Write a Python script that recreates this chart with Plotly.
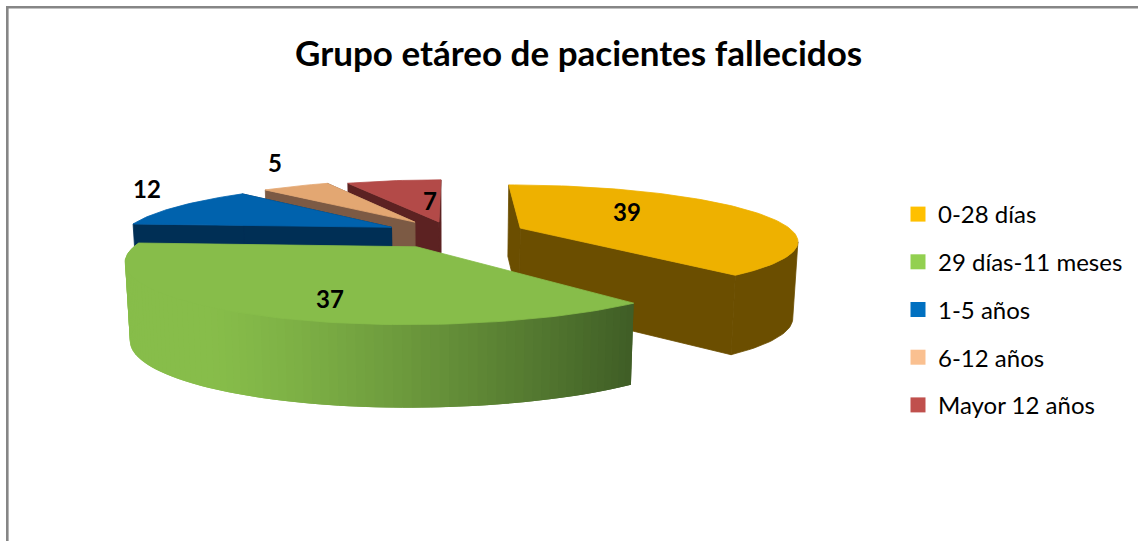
import math
import plotly.graph_objects as go

categories = ["0-28 días", "29 días-11 meses", "1-5 años", "6-12 años", "Mayor 12 años"]
values = [39, 37, 12, 5, 7]
title_text = "Grupo etáreo de pacientes fallecidos"

legend_colors = ["#FFC000", "#92D050", "#0070C0", "#FAC090", "#C0504D"]
top_colors = ["#EEB100", "#87BD4A", "#0062AD", "#E3A772", "#B34A48"]
wall_colors = ["#6B4E00", "#87BD4A", "#002F55", "#7C5A44", "#5C2222"]
explode = [75, 75, 70, 70, 60]
radii = [274, 280, 280, 280, 280]
label_pos = [(627, 211), (330, 298), (147, 188), (275, 162), (430, 200)]

W, H = 1138, 541
CX, HORIZON, BASE, DIST, DEPTH = 451, -32, 265, 1350, 76


def project(u, v, down):
    s = DIST / (DIST - v)
    left = 0.96 if u < 0 else 1.0
    x = CX + s * u * left * (1 - 0.015 * down)
    y = HORIZON + s * BASE + down * DEPTH * s ** 0.3
    return x, y


def ground(theta, radius, mid, ex):
    u = radius * math.sin(theta) + ex * math.sin(mid)
    v = -radius * math.cos(theta) - ex * math.cos(mid)
    return u, v


def poly(points, color, width=0.6):
    xs = [p[0] for p in points] + [points[0][0]]
    ys = [p[1] for p in points] + [points[0][1]]
    return go.Scatter(x=xs, y=ys, mode="lines", fill="toself", fillcolor=color,
                      line=dict(color=color, width=width), hoverinfo="skip", showlegend=False)


def mix(t):
    a, b = (0x87, 0xBD, 0x4A), (0x3E, 0x5C, 0x25)
    t = max(0.0, min(1.0, t)) ** 1.25
    return "rgb(%d,%d,%d)" % tuple(round(a[i] + (b[i] - a[i]) * t) for i in range(3))


def tucked(p, k):
    # lift the wall's upper edge under the top face, so no pale seam shows along it
    return (p[0], p[1] - 3) if k > 1 and p[0] > 140 else p


total = sum(values)
angles = [0.0]
for val in values:
    angles.append(angles[-1] + 2 * math.pi * val / total)

fig = go.Figure()
for i in [4, 3, 2, 0, 1]:
    a0, a1 = angles[i], angles[i + 1]
    mid = (a0 + a1) / 2
    ex, R = explode[i], radii[i]
    apex_top = project(*ground(0, 0, mid, ex), 0)
    apex_bot = project(*ground(0, 0, mid, ex), 1)
    n = max(4, round(math.degrees(a1 - a0) / 1.5))
    th = [a0 + (a1 - a0) * k / n for k in range(n + 1)]
    top = [project(*ground(t, R, mid, ex), 0) for t in th]
    bot = [project(*ground(t, R, mid, ex), 1) for t in th]
    if i == 1:
        for k in range(n):
            # each strip overlaps the previous one so no seams show
            j = max(k - 1, 0)
            quad = [tucked(top[j], j), tucked(top[k + 1], k + 1), bot[k + 1], bot[j]]
            xm = (top[k][0] + top[k + 1][0]) / 2
            fig.add_trace(poly(quad, mix((xm - 200) / 432), 0))
    else:
        fig.add_trace(poly([apex_top, top[0], bot[0], apex_bot], wall_colors[i], 0.8))
        fig.add_trace(poly([apex_top, top[-1], bot[-1], apex_bot], wall_colors[i], 0.8))
        if math.cos(a1) < 0:
            # visible rim runs from the rightmost point of the arc to the slice end
            k0 = max(range(n + 1), key=lambda k: top[k][0])
            fig.add_trace(poly(top[k0:] + bot[k0:][::-1], wall_colors[i], 0.8))
    fig.add_trace(poly([apex_top] + top, top_colors[i], 0.8))

for i, name in enumerate(categories):
    fig.add_trace(go.Scatter(x=[None], y=[None], mode="markers", name=name, legendgroup=name,
                             marker=dict(symbol="square", size=15, color=legend_colors[i])))

annotations = [dict(x=p[0], y=p[1], text="<b>%d</b>" % v, showarrow=False, xref="x", yref="y",
                    font=dict(family="Lato", size=24, color="#000000"))
               for p, v in zip(label_pos, values)]
annotations.append(dict(x=578, y=52, text="<b>%s</b>" % title_text, showarrow=False, xref="x", yref="y",
                        font=dict(family="Lato", size=35, color="#000000")))

fig.update_layout(
    width=W, height=H, margin=dict(l=0, r=0, t=0, b=0), autosize=False,
    paper_bgcolor="white", plot_bgcolor="white",
    xaxis=dict(range=[0, W], visible=False, fixedrange=True),
    yaxis=dict(range=[H, 0], visible=False, fixedrange=True),
    annotations=annotations,
    shapes=[dict(type="rect", xref="x", yref="y", x0=7.3, y0=7.3, x1=W + 20, y1=H + 20,
                 line=dict(color="#868686", width=2.6), layer="below")],
    legend=dict(x=898 / W, xanchor="left", y=1 - 192 / H, yanchor="top", tracegroupgap=13.5,
                font=dict(family="Lato", size=24, color="#000000"), bgcolor="rgba(0,0,0,0)",
                itemclick=False, itemdoubleclick=False),
)

fig.write_html("out.html", config={"displayModeBar": False},
               post_script="document.body.style.margin='0';document.body.style.overflow='hidden';")
